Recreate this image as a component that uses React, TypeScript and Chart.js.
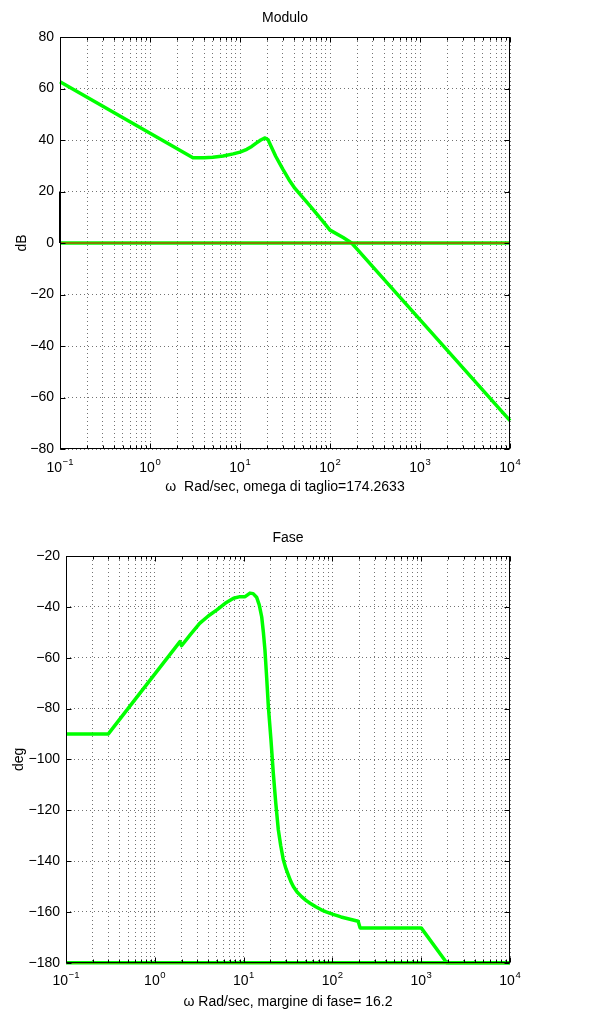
import React, { useEffect, useRef } from 'react';
import { Chart, registerables } from 'chart.js';

Chart.register(...registerables);

const FONT = '"Liberation Sans", Arial, Helvetica, sans-serif';

// ---------- data ----------
const freqMin = 0.1;
const freqMax = 10000;
const decadeExponents = [-1, 0, 1, 2, 3, 4];
const minorMultipliers = [1, 2, 3, 4, 5, 6, 7, 8, 9];

// Magnitude (dB) vs omega (rad/s)
const magFreq = [0.1, 3, 4, 5, 6.5, 8.4, 10, 11.9, 13.5, 15, 17, 19, 20.5, 22, 25, 30, 35, 40.8, 50, 60, 80, 100, 140, 174, 200, 330, 10000];
const magDb = [62.6, 33.1, 33.1, 33.3, 33.8, 34.6, 35.3, 36.4, 37.5, 38.7, 40, 40.8, 40.1, 37.8, 33.6, 28.6, 24.6, 21.2, 17.6, 14.4, 9.2, 5, 2.1, 0, -2.4, -10.9, -69];
const magRefFreq = [0.1, 10000];
const magRefDb = [0, 0];
const magMarkFreq = [0.1, 0.1];
const magMarkDb = [0, 20];
const magTicks = [-80, -60, -40, -20, 0, 20, 40, 60, 80];

// Phase (deg) vs omega (rad/s)
const phaseFreq = [0.1, 0.3, 1.92, 2.0, 2.5, 3.2, 4, 5, 6.2, 7.7, 9.1, 10.4, 11.8, 12.8, 14, 15, 16, 16.7, 17.4, 18.2, 19, 20.3, 21.6, 23, 24.6, 26.2, 28, 30, 32, 34, 36.3, 40, 45, 50, 56, 65, 75, 85, 102, 125, 150, 195, 205, 1000, 1937, 10000];
const phaseDeg = [-90, -90, -53.7, -55.3, -51, -46.5, -43.6, -41.2, -38.6, -36.6, -36, -36, -34.6, -34.8, -36.2, -39.2, -44, -50, -57, -68, -79.2, -92, -105.4, -117, -127.7, -134, -139.5, -143, -145.6, -148, -150, -152.2, -154, -155.4, -156.6, -158, -159.2, -160, -161, -162, -162.7, -163.7, -166.3, -166.3, -180, -180];
const phaseRefFreq = [0.1, 10000];
const phaseRefDeg = [-180, -180];
const phaseTicks = [-180, -160, -140, -120, -100, -80, -60, -40, -20];

const GREEN = '#00ff00';
const RED = '#ff0000';
const GRID = 'rgba(0,0,0,0.55)';

const toPts = (xs: number[], ys: number[]) => xs.map((x, i) => ({ x, y: ys[i] }));

const logTickValues = (): number[] => {
  const out: number[] = [];
  for (const e of decadeExponents) {
    for (const m of minorMultipliers) {
      const v = +(m * Math.pow(10, e)).toPrecision(6);
      if (v >= freqMin && v <= freqMax) out.push(v);
    }
  }
  return out;
};

const isDecade = (v: number) => Math.abs(Math.log10(v) - Math.round(Math.log10(v))) < 1e-9;

const fmtNum = (v: number) => (v < 0 ? '\u2212' + Math.abs(v) : String(v));

// frame + inward ticks + decade labels
const framePlugin = {
  id: 'matlabFrame',
  afterDraw(chart: any) {
    const { ctx, chartArea: a, scales } = chart;
    const xs = scales.x;
    const ys = scales.y;
    ctx.save();
    ctx.strokeStyle = '#000';
    ctx.lineWidth = 1;
    ctx.setLineDash([]);
    const L = Math.round(a.left) + 0.5;
    const R = Math.round(a.right) - 0.5;
    const T = Math.round(a.top) + 0.5;
    const B = Math.round(a.bottom) - 0.5;
    ctx.strokeRect(L, T, R - L, B - T);
    ctx.beginPath();
    for (const t of xs.ticks) {
      const px = Math.round(xs.getPixelForValue(t.value)) + 0.5;
      const len = isDecade(t.value) ? 5 : 3;
      ctx.moveTo(px, B);
      ctx.lineTo(px, B - len);
      ctx.moveTo(px, T);
      ctx.lineTo(px, T + len);
    }
    for (const t of ys.ticks) {
      const py = Math.round(ys.getPixelForValue(t.value)) + 0.5;
      ctx.moveTo(L, py);
      ctx.lineTo(L + 5, py);
      ctx.moveTo(R, py);
      ctx.lineTo(R - 5, py);
    }
    ctx.stroke();

    // decade labels 10^e
    ctx.fillStyle = '#000';
    ctx.textBaseline = 'alphabetic';
    ctx.textAlign = 'left';
    for (const e of decadeExponents) {
      const px = xs.getPixelForValue(Math.pow(10, e));
      const base = '10';
      const exp = fmtNum(e);
      ctx.font = `14px ${FONT}`;
      const w1 = ctx.measureText(base).width;
      ctx.font = `9.5px ${FONT}`;
      const w2 = ctx.measureText(exp).width;
      const start = px - (w1 + w2 + 0.5) / 2;
      ctx.font = `14px ${FONT}`;
      ctx.fillText(base, start, a.bottom + 22.5);
      ctx.font = `9.5px ${FONT}`;
      ctx.fillText(exp, start + w1 + 0.5, a.bottom + 15.5);
    }
    ctx.restore();
  },
};

interface Cfg {
  title: string;
  titlePadTop: number;
  titlePadBottom: number;
  yTitle: string;
  yTitlePad: number;
  yWidth: number;
  xHeight: number;
  xTitle: string;
  xTitlePadBottom: number;
  yMin: number;
  yMax: number;
  yTicks: number[];
  datasets: any[];
}

const makeConfig = (c: Cfg): any => ({
  type: 'line',
  data: { datasets: c.datasets },
  options: {
    animation: false,
    responsive: false,
    maintainAspectRatio: false,
    events: [],
    layout: { padding: { left: 0, right: 99, top: 0, bottom: 0 } },
    elements: { point: { radius: 0 }, line: { tension: 0 } },
    plugins: {
      legend: { display: false },
      tooltip: { enabled: false },
      title: {
        display: true,
        fullSize: false,
        text: c.title,
        color: '#000',
        font: { family: FONT, size: 14, weight: 'normal' },
        padding: { top: c.titlePadTop, bottom: c.titlePadBottom },
      },
    },
    scales: {
      x: {
        type: 'logarithmic',
        min: freqMin,
        max: freqMax,
        afterBuildTicks: (s: any) => {
          s.ticks = logTickValues().map((v) => ({ value: v, major: isDecade(v) }));
        },
        afterFit: (s: any) => {
          s.height = c.xHeight;
        },
        ticks: { display: false },
        grid: { color: GRID, lineWidth: 1, drawTicks: false },
        border: { display: false, dash: [1, 3] },
        title: {
          display: true,
          text: c.xTitle,
          color: '#000',
          font: { family: FONT, size: 14 },
          padding: { top: 0, bottom: c.xTitlePadBottom },
        },
      },
      y: {
        type: 'linear',
        min: c.yMin,
        max: c.yMax,
        afterBuildTicks: (s: any) => {
          s.ticks = c.yTicks.map((v) => ({ value: v }));
        },
        afterFit: (s: any) => {
          s.width = c.yWidth;
        },
        ticks: {
          color: '#000',
          font: { family: FONT, size: 14 },
          padding: 6,
          autoSkip: false,
          callback: (v: any) => fmtNum(Number(v)),
        },
        grid: { color: GRID, lineWidth: 1, drawTicks: false },
        border: { display: false, dash: [1, 3] },
        title: {
          display: true,
          text: c.yTitle,
          color: '#000',
          font: { family: FONT, size: 14 },
          padding: { top: c.yTitlePad, bottom: 0 },
        },
      },
    },
  },
  plugins: [framePlugin],
});

const lineDs = (pts: any[], color: string, width: number) => ({
  data: pts,
  borderColor: color,
  backgroundColor: color,
  borderWidth: width,
  pointRadius: 0,
  fill: false,
  clip: false,
  borderCapStyle: 'butt',
  borderJoinStyle: 'round',
});

export default function App() {
  const magRef = useRef<HTMLCanvasElement | null>(null);
  const phRef = useRef<HTMLCanvasElement | null>(null);

  useEffect(() => {
    const magChart = new Chart(
      magRef.current as HTMLCanvasElement,
      makeConfig({
        title: 'Modulo',
        titlePadTop: 10.1,
        titlePadBottom: 10.1,
        yTitle: 'dB',
        yTitlePad: 14,
        yWidth: 60,
        xHeight: 51,
        xTitle: '\u03c9  Rad/sec, omega di taglio=174.2633',
        xTitlePadBottom: 4,
        yMin: -80,
        yMax: 80,
        yTicks: magTicks,
        datasets: [
          lineDs(toPts(magRefFreq, magRefDb), RED, 1.2),
          lineDs(toPts(magMarkFreq, magMarkDb), '#000', 2),
          lineDs(toPts(magFreq, magDb), GREEN, 3.5),
          lineDs(toPts(magRefFreq, magRefDb), GREEN, 3.5),
        ],
      })
    );
    const phChart = new Chart(
      phRef.current as HTMLCanvasElement,
      makeConfig({
        title: 'Fase',
        titlePadTop: 29.6,
        titlePadBottom: 9.6,
        yTitle: 'deg',
        yTitlePad: 10.5,
        yWidth: 66,
        xHeight: 49.3,
        xTitle: '\u03c9 Rad/sec, margine di fase= 16.2',
        xTitlePadBottom: 1.3,
        yMin: -180,
        yMax: -20,
        yTicks: phaseTicks,
        datasets: [
          lineDs(toPts(phaseRefFreq, phaseRefDeg), RED, 1.2),
          lineDs(toPts(phaseFreq, phaseDeg), GREEN, 3.5),
          lineDs(toPts(phaseRefFreq, phaseRefDeg), GREEN, 3.5),
        ],
      })
    );
    return () => {
      magChart.destroy();
      phChart.destroy();
    };
  }, []);

  return (
    <div style={{ position: 'absolute', left: 0, top: 0, width: 609, height: 1012, background: '#fff' }}>
      <canvas ref={magRef} width={609} height={500} style={{ position: 'absolute', left: 0, top: 0, display: 'block' }} />
      <canvas ref={phRef} width={609} height={512} style={{ position: 'absolute', left: 0, top: 500, display: 'block' }} />
    </div>
  );
}
